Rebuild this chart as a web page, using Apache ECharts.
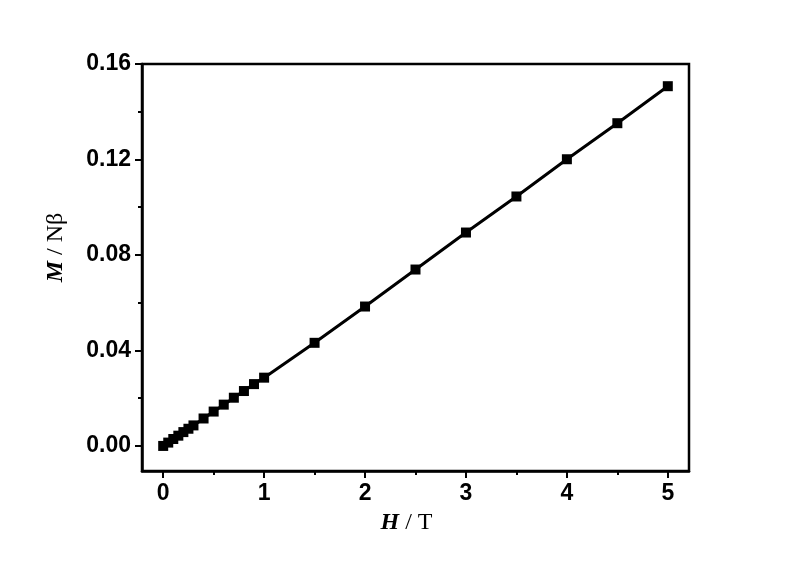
<!DOCTYPE html>
<html>
<head>
<meta charset="utf-8">
<script src="https://cdn.jsdelivr.net/npm/echarts@6/dist/echarts.min.js"></script>
<style>
  html, body { margin: 0; padding: 0; background: #fff; }
  #myChart { width: 800px; height: 565px; }
</style>
</head>
<body>
<div id="myChart"></div>
<script>
// field H (T) and magnetisation M (Nβ)
const hField = [0, 0.05, 0.1, 0.15, 0.2, 0.25, 0.3, 0.4, 0.5, 0.6, 0.7, 0.8, 0.9, 1, 1.5, 2, 2.5, 3, 3.5, 4, 4.5, 5];
const moment = [0, 0.0014, 0.0029, 0.0043, 0.0058, 0.0072, 0.0086, 0.0115, 0.0144, 0.0173, 0.0202, 0.023, 0.0259, 0.0286,
  0.0432, 0.0584, 0.0739, 0.0894, 0.1045, 0.1201, 0.1352, 0.1507];

// tick labels
const xTicks = [0, 1, 2, 3, 4, 5];
const xMinor = [0.5, 1.5, 2.5, 3.5, 4.5];
const yTicks = [0, 0.04, 0.08, 0.12, 0.16];
const yMinor = [0.02, 0.06, 0.1, 0.14];

const xRange = [-0.21, 5.21];
const yRange = [-0.0105, 0.16];

const labelFont = {
  color: "#000",
  fontFamily: "Liberation Sans, Arial, sans-serif",
  fontWeight: "bold",
  fontSize: 23,
};

const titleRich = {
  i: { fontFamily: "Liberation Serif, Times New Roman, serif", fontStyle: "italic", fontWeight: "bold", fontSize: 24, color: "#000" },
  r: { fontFamily: "Liberation Serif, Times New Roman, serif", fontSize: 24, color: "#000" },
};

const option = {
  animation: false,
  backgroundColor: "#fff",
  grid: {
    left: 142,
    top: 64,
    width: 547,
    height: 407,
    show: true,
    borderColor: "#000",
    borderWidth: 2.5,
    backgroundColor: "transparent",
  },
  xAxis: [
    {
      type: "value",
      min: xRange[0],
      max: xRange[1],
      name: "{i|H}{r| / T}",
      nameLocation: "middle",
      nameGap: 40,
      nameTextStyle: { padding: [0, 18, 0, 0], rich: titleRich },
      axisLine: { show: true, onZero: false, lineStyle: { color: "#000", width: 2.5 } },
      axisTick: { show: true, customValues: xTicks, length: 7, lineStyle: { color: "#000", width: 2 } },
      axisLabel: Object.assign({ customValues: xTicks, margin: 11, formatter: (v) => String(v) }, labelFont),
      splitLine: { show: false },
    },
    {
      type: "value",
      position: "bottom",
      min: xRange[0],
      max: xRange[1],
      axisLine: { show: false, onZero: false },
      axisTick: { show: true, customValues: xMinor, length: 4, lineStyle: { color: "#000", width: 2 } },
      axisLabel: { show: false },
      splitLine: { show: false },
    },
  ],
  yAxis: [
    {
      type: "value",
      min: yRange[0],
      max: yRange[1],
      name: "{i|M}{r| / Nβ}",
      nameLocation: "middle",
      nameGap: 74,
      nameTextStyle: { padding: [0, 0, 0, 40], rich: titleRich },
      axisLine: { show: true, onZero: false, lineStyle: { color: "#000", width: 2.5 } },
      axisTick: { show: true, customValues: yTicks, length: 7, lineStyle: { color: "#000", width: 2 } },
      axisLabel: Object.assign({ customValues: yTicks, margin: 11, formatter: (v) => v.toFixed(2) }, labelFont),
      splitLine: { show: false },
    },
    {
      type: "value",
      position: "left",
      min: yRange[0],
      max: yRange[1],
      axisLine: { show: false, onZero: false },
      axisTick: { show: true, customValues: yMinor, length: 4, lineStyle: { color: "#000", width: 2 } },
      axisLabel: { show: false },
      splitLine: { show: false },
    },
  ],
  series: [
    {
      type: "line",
      xAxisIndex: 0,
      yAxisIndex: 0,
      data: hField.map((h, i) => [h, moment[i]]),
      symbol: "rect",
      symbolSize: 10,
      showAllSymbol: true,
      lineStyle: { color: "#000", width: 3 },
      itemStyle: { color: "#000" },
    },
  ],
};

const chart = echarts.init(document.getElementById("myChart"));
chart.setOption(option);
</script>
</body>
</html>
